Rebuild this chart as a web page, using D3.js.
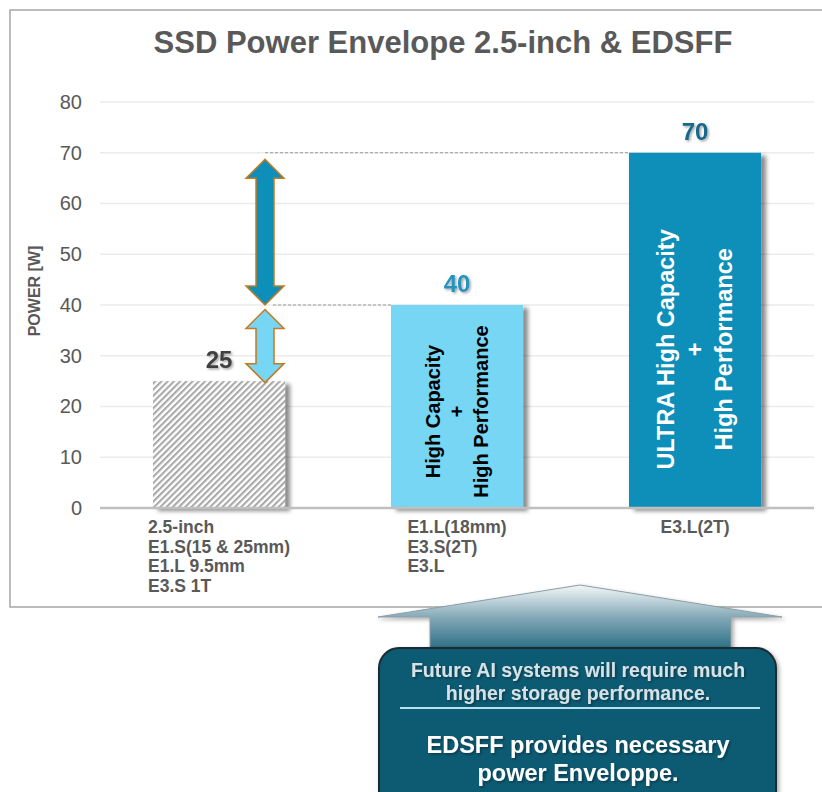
<!DOCTYPE html>
<html>
<head>
<meta charset="utf-8">
<script src="https://cdn.jsdelivr.net/npm/d3@7"></script>
<style>
  html, body { margin: 0; padding: 0; background: #fff; }
  svg { display: block; font-family: "Liberation Sans", Arial, sans-serif; }
</style>
</head>
<body>
<div id="chart"></div>
<script>
// Datos del gráfico
const chartTitle = "SSD Power Envelope 2.5-inch & EDSFF";
const yAxisTitle = "POWER [W]";
const categoryIds = ["std", "edsff", "ultra"];
const categoryLabels = [
    ["2.5-inch", "E1.S(15 & 25mm)", "E1.L 9.5mm", "E3.S 1T"],
    ["E1.L(18mm)", "E3.S(2T)", "E3.L"],
    ["E3.L(2T)"]
];
const powerValues = [25, 40, 70];
const barNotes = [
    [],
    ["High Capacity", "+", "High Performance"],
    ["ULTRA High Capacity", "+", "High Performance"]
];
const yTicks = [0, 10, 20, 30, 40, 50, 60, 70, 80];
const envelopeSteps = [[25, 40], [40, 70]];
const calloutTop = ["Future AI systems will require much", "higher storage performance."];
const calloutBottom = ["EDSFF provides necessary", "power Enveloppe."];

const width = 822;
const height = 792;

const svg = d3.select("#chart")
    .append("svg")
    .attr("width", width)
    .attr("height", height);

const defs = svg.append("defs");

// Trama rayada para la barra 2.5-inch
const hatch = defs.append("pattern")
    .attr("id", "hatch")
    .attr("patternUnits", "userSpaceOnUse")
    .attr("width", 4.4)
    .attr("height", 4.4)
    .attr("patternTransform", "rotate(45)");
hatch.append("rect").attr("width", 4.4).attr("height", 4.4).attr("fill", "#fff");
hatch.append("rect").attr("width", 2.1).attr("height", 4.4).attr("fill", "#a9a9a9");

// Sombras
const barShadow = defs.append("filter").attr("id", "barShadow")
    .attr("x", "-10%").attr("y", "-10%").attr("width", "130%").attr("height", "130%");
barShadow.append("feDropShadow")
    .attr("dx", 5).attr("dy", 3).attr("stdDeviation", 2)
    .attr("flood-color", "#000").attr("flood-opacity", 0.45);

const textShadow = defs.append("filter").attr("id", "textShadow")
    .attr("x", "-20%").attr("y", "-20%").attr("width", "140%").attr("height", "140%");
textShadow.append("feDropShadow")
    .attr("dx", 1.5).attr("dy", 1.5).attr("stdDeviation", 0.8)
    .attr("flood-color", "#000").attr("flood-opacity", 0.35);

const arrowShadow = defs.append("filter").attr("id", "arrowShadow")
    .attr("x", "-10%").attr("y", "-20%").attr("width", "120%").attr("height", "140%");
arrowShadow.append("feDropShadow")
    .attr("dx", 2).attr("dy", 2).attr("stdDeviation", 2)
    .attr("flood-color", "#000").attr("flood-opacity", 0.35);

const arrowGrad = defs.append("linearGradient")
    .attr("id", "bigArrowGrad")
    .attr("x1", 0).attr("y1", 0).attr("x2", 0).attr("y2", 1);
arrowGrad.append("stop").attr("offset", "0%").attr("stop-color", "#f4f7f8");
arrowGrad.append("stop").attr("offset", "45%").attr("stop-color", "#7fa6b5");
arrowGrad.append("stop").attr("offset", "100%").attr("stop-color", "#0e5a73");

// Marco
svg.append("rect")
    .attr("x", 10).attr("y", 10)
    .attr("width", 840).attr("height", 597)
    .attr("fill", "#fff")
    .attr("stroke", "#a6a6a6")
    .attr("stroke-width", 1.5);

// Título
svg.append("text")
    .attr("x", 443)
    .attr("y", 53)
    .attr("text-anchor", "middle")
    .attr("font-size", 31)
    .attr("font-weight", "bold")
    .attr("fill", "#595959")
    .text(chartTitle);

// Escalas
const x = d3.scaleBand()
    .domain(categoryIds)
    .range([100, 814])
    .paddingInner(0.445)
    .paddingOuter(0.2225);

const y = d3.scaleLinear()
    .domain([0, 80])
    .range([508, 102]);

// Rejilla
svg.append("g")
    .selectAll("line")
    .data(yTicks.filter(d => d > 0))
    .join("line")
    .attr("x1", 100).attr("x2", 814)
    .attr("y1", d => y(d)).attr("y2", d => y(d))
    .attr("stroke", "#ebebeb")
    .attr("stroke-width", 1.5);

// Eje Y
const yAxis = svg.append("g")
    .attr("transform", "translate(100,0)")
    .call(d3.axisLeft(y).tickValues(yTicks).tickSize(0).tickPadding(18));
yAxis.select(".domain").remove();
yAxis.selectAll("text")
    .attr("font-size", 20)
    .attr("font-family", "Liberation Sans, Arial, sans-serif")
    .attr("fill", "#595959");

// Etiqueta del eje Y
svg.append("g")
    .attr("transform", "translate(40,291) rotate(-90)")
    .append("text")
    .attr("text-anchor", "middle")
    .style("font-size", "16px")
    .style("font-weight", "bold")
    .style("fill", "#595959")
    .text(yAxisTitle);

// Líneas discontinuas de referencia
const dashed = svg.append("g");
dashed.append("line")
    .attr("x1", 265).attr("x2", x(categoryIds[2]))
    .attr("y1", y(powerValues[2])).attr("y2", y(powerValues[2]))
    .attr("stroke", "#9a9a9a").attr("stroke-width", 1).attr("stroke-dasharray", "3,2");
dashed.append("line")
    .attr("x1", 273).attr("x2", x(categoryIds[1]))
    .attr("y1", y(powerValues[1])).attr("y2", y(powerValues[1]))
    .attr("stroke", "#9a9a9a").attr("stroke-width", 1).attr("stroke-dasharray", "3,2");

// Barras
const barFills = ["url(#hatch)", "#76d6f3", "#0e8fba"];
svg.append("g")
    .selectAll("rect")
    .data(powerValues)
    .join("rect")
    .attr("x", (d, i) => x(categoryIds[i]))
    .attr("y", d => y(d))
    .attr("width", x.bandwidth())
    .attr("height", d => y(0) - y(d))
    .attr("fill", (d, i) => barFills[i])
    .attr("filter", "url(#barShadow)");

// Eje X (línea base)
svg.append("line")
    .attr("x1", 100).attr("x2", 814)
    .attr("y1", y(0)).attr("y2", y(0))
    .attr("stroke", "#bfbfbf")
    .attr("stroke-width", 2.5);

// Etiquetas de valores
const valueColors = ["#404040", "#2893bf", "#19698a"];
svg.append("g")
    .selectAll("text")
    .data(powerValues)
    .join("text")
    .attr("x", (d, i) => x(categoryIds[i]) + x.bandwidth() / 2)
    .attr("y", d => y(d) - 13)
    .attr("text-anchor", "middle")
    .attr("font-size", 24)
    .attr("font-weight", "bold")
    .attr("fill", (d, i) => valueColors[i])
    .attr("filter", "url(#textShadow)")
    .text(d => d);

// Textos verticales dentro de las barras
const noteStyle = [
    null,
    { size: 20, gap: 24, color: "#000", shift: 5 },
    { size: 23.5, gap: 29, color: "#fff", shift: 19 }
];
barNotes.forEach((lines, i) => {
    if (!lines.length) return;
    const st = noteStyle[i];
    const cx = x(categoryIds[i]) + x.bandwidth() / 2;
    const cy = (y(powerValues[i]) + y(0)) / 2 + st.shift;
    const g = svg.append("g")
        .attr("transform", `translate(${cx},${cy}) rotate(-90)`);
    g.selectAll("text")
        .data(lines)
        .join("text")
        .attr("x", 0)
        .attr("y", (d, k) => (k - (lines.length - 1) / 2) * st.gap)
        .attr("dy", "0.35em")
        .attr("text-anchor", "middle")
        .attr("font-size", st.size)
        .attr("font-weight", "bold")
        .attr("fill", st.color)
        .text(d => d);
});

// Flechas dobles (incremento de potencia)
const arrowX = 265;
const headW = 19, shaftW = 9, headL = 19;
function doubleArrow(top, bottom) {
    return [
        [arrowX, top],
        [arrowX + headW, top + headL],
        [arrowX + shaftW, top + headL],
        [arrowX + shaftW, bottom - headL],
        [arrowX + headW, bottom - headL],
        [arrowX, bottom],
        [arrowX - headW, bottom - headL],
        [arrowX - shaftW, bottom - headL],
        [arrowX - shaftW, top + headL],
        [arrowX - headW, top + headL]
    ].map(p => p.join(",")).join(" ");
}
const arrowFills = ["#76d6f3", "#0e8fba"];
const arrowInset = [[4.5, 1.5], [6.5, 0]];
svg.append("g")
    .selectAll("polygon")
    .data(envelopeSteps)
    .join("polygon")
    .attr("points", (d, i) => doubleArrow(y(d[1]) + arrowInset[i][0], y(d[0]) + arrowInset[i][1]))
    .attr("fill", (d, i) => arrowFills[i])
    .attr("stroke", "#c47b22")
    .attr("stroke-width", 1.5)
    .attr("stroke-linejoin", "miter");

// Etiquetas de categorías (bloques alineados a la izquierda, centrados en la banda)
categoryLabels.forEach((lines, i) => {
    const g = svg.append("g");
    const texts = g.selectAll("text")
        .data(lines)
        .join("text")
        .attr("y", (d, k) => 533 + k * 19.7)
        .attr("font-size", 17.5)
        .attr("font-weight", "bold")
        .attr("fill", "#595959")
        .text(d => d);
    let maxW = 0;
    texts.each(function() { maxW = Math.max(maxW, this.getComputedTextLength()); });
    texts.attr("x", x(categoryIds[i]) + x.bandwidth() / 2 - maxW / 2);
});

// Flecha grande del recuadro inferior
svg.append("polygon")
    .attr("points", "580,585 782,617 731,617 731,660 430,660 430,617 378,617")
    .attr("fill", "url(#bigArrowGrad)")
    .attr("stroke", "#8c9ea6")
    .attr("stroke-width", 1)
    .attr("filter", "url(#arrowShadow)");

// Recuadro inferior
svg.append("rect")
    .attr("x", 379).attr("y", 648)
    .attr("width", 397).attr("height", 170)
    .attr("rx", 20).attr("ry", 20)
    .attr("fill", "#0e5a73")
    .attr("stroke", "#1c2a30")
    .attr("stroke-width", 2)
    .attr("filter", "url(#arrowShadow)");

svg.append("g")
    .selectAll("text")
    .data(calloutTop)
    .join("text")
    .attr("x", 578)
    .attr("y", (d, k) => 677 + k * 23)
    .attr("text-anchor", "middle")
    .attr("font-size", 19.5)
    .attr("font-weight", "bold")
    .attr("fill", "#d7e2e6")
    .attr("filter", "url(#textShadow)")
    .text(d => d);

svg.append("line")
    .attr("x1", 400).attr("x2", 760)
    .attr("y1", 708).attr("y2", 708)
    .attr("stroke", "#b4e2f2")
    .attr("stroke-width", 2);

svg.append("g")
    .selectAll("text")
    .data(calloutBottom)
    .join("text")
    .attr("x", 578)
    .attr("y", (d, k) => 753 + k * 28)
    .attr("text-anchor", "middle")
    .attr("font-size", 23.5)
    .attr("font-weight", "bold")
    .attr("fill", "#fff")
    .attr("filter", "url(#textShadow)")
    .text(d => d);
</script>
</body>
</html>
